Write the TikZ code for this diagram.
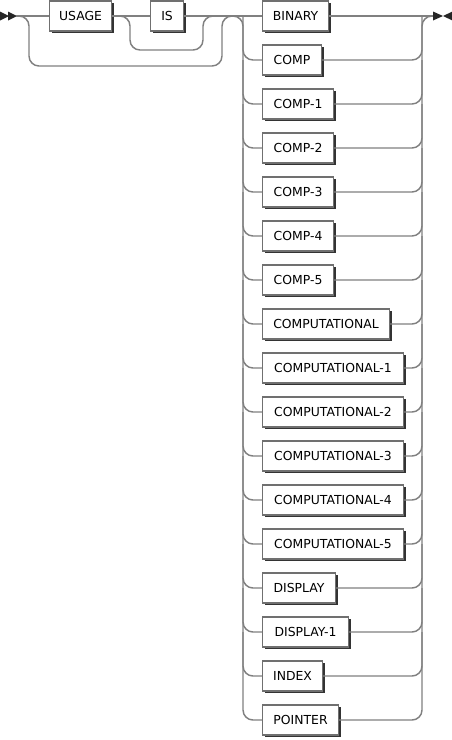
\documentclass[tikz,border=0pt]{standalone}
\usepackage{fontspec}
\setmainfont{DejaVu Sans}
\usetikzlibrary{shadows}
\definecolor{linec}{HTML}{808080}
\definecolor{boxc}{HTML}{707070}
\tikzset{
  ln/.style={draw=linec, line width=1.1pt},
  rc/.style={ln, rounded corners=7.5pt},
  kw/.style={draw=boxc, line width=0.8pt, fill=white, inner sep=0pt,
    minimum height=22.5pt, font=\fontsize{9.3pt}{11pt}\selectfont,
    drop shadow={shadow xshift=1.6pt, shadow yshift=-1.6pt, opacity=1, fill=black!80}},
  endmark/.style={fill=black!85, draw=none}
}
\begin{document}
\begin{tikzpicture}[x=0.75pt,y=-0.75pt]
\useasboundingbox (0,0) rectangle (452,740);
% start marker
\coordinate (S) at (16,16);
\fill[endmark] (0,11.5) -- (9,16) -- (0,20.5) -- cycle;
\fill[endmark] (8,11.5) -- (17,16) -- (8,20.5) -- cycle;
% top keywords
\node[kw, minimum width=46.5pt, anchor=west] (u) at (49,16) {USAGE};
\node[kw, minimum width=24.75pt, anchor=west] (is) at (150,16) {IS};
% branches
\foreach \i/\t/\r in {1/BINARY/328, 2/COMP/321, 3/COMP-1/333, 4/COMP-2/333, 5/COMP-3/333,
  6/COMP-4/333, 7/COMP-5/333, 8/COMPUTATIONAL/389, 9/COMPUTATIONAL-1/403,
  10/COMPUTATIONAL-2/403, 11/COMPUTATIONAL-3/403, 12/COMPUTATIONAL-4/403,
  13/COMPUTATIONAL-5/403, 14/DISPLAY/335, 15/DISPLAY-1/348, 16/INDEX/322, 17/POINTER/338}{
  \pgfmathsetmacro{\yy}{16+44*(\i-1)}
  \pgfmathsetmacro{\ww}{(\r-262)*0.75}
  \node[kw, minimum width=\ww pt, anchor=west] (b\i) at (262,\yy) {\t};
}
\coordinate (E) at (433,16);
\coordinate (J) at (233,16);
% main line
\draw[ln] (S) -- (u.west);
\draw[ln] (u.east) -- (is.west);
\draw[ln] (is.east) -- (b1.west);
\draw[ln] (b1.east) -- (E);
% bypasses
\draw[rc] (19,16) -- (29,16) -- (29,66) -- (222,66) -- (222,16) -- (J);
\draw[rc] (119,16) -- (130,16) -- (130,50) -- (203,50) -- (203,16) -- (213,16);
% left rail
\draw[rc] (J) -- (243,16) -- (243,720) -- (b17.west);
% right rail
\draw[rc] (b17.east) -- (422,720) -- (422,16) -- (E);
\foreach \i in {2,...,16}{
  \pgfmathsetmacro{\yp}{16+44*(\i-2)}
  \draw[rc] (243,\yp) |- (b\i.west);
  \draw[rc] (b\i.east) -| (422,\yp);
}
% end marker
\fill[endmark] (433,11.5) -- (443,16) -- (433,20.5) -- cycle;
\fill[endmark] (452.5,11.5) -- (443,16) -- (452.5,20.5) -- cycle;
\end{tikzpicture}
\end{document}
